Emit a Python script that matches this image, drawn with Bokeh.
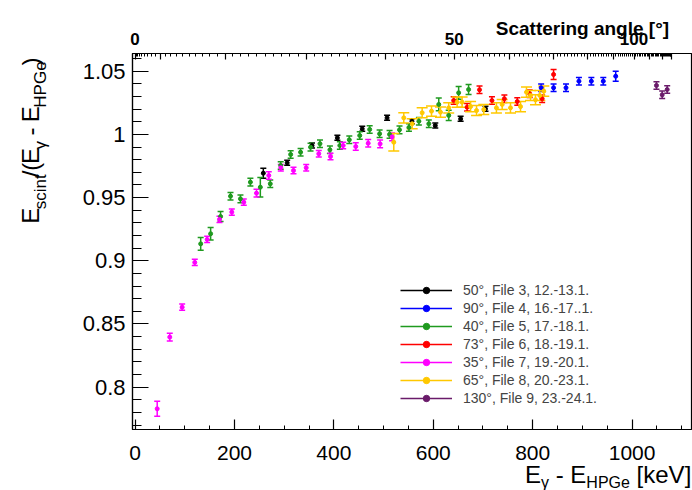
import math
from bokeh.plotting import figure
from bokeh.layouts import column, row
from bokeh.models import (Range1d, LinearAxis, FixedTicker, Whisker, ColumnDataSource,
                          Legend, LegendItem, TeeHead)
from bokeh.core.properties import value
from bokeh.embed import file_html
from bokeh.resources import INLINE

# ---------------- data ----------------
labels = ["50°, File 3, 12.-13.1.", "90°, File 4, 16.-17..1.", "40°, File 5, 17.-18.1.",
          "73°, File 6, 18.-19.1.", "35°, File 7, 19.-20.1.", "65°, File 8, 20.-23.1.",
          "130°, File 9, 23.-24.1."]
colors = ["#000000", "#0000ff", "#1f9a1f", "#ff0000", "#ff00ff", "#ffc800", "#6a1b6a"]

f3_x = [258, 306, 356, 407, 457, 507, 557, 604, 655, 705]
f3_y = [0.9693, 0.9775, 0.9912, 0.9973, 1.0044, 1.0131, 1.0104, 1.0070, 1.0123, 1.0203]
f3_e = [0.004, 0.002, 0.002, 0.002, 0.002, 0.002, 0.002, 0.002, 0.002, 0.002]

f4_x = [817, 842, 867, 893, 918, 942, 967]
f4_y = [1.0369, 1.0369, 1.0369, 1.0421, 1.0421, 1.0421, 1.0460]
f4_e = [0.003, 0.003, 0.003, 0.003, 0.003, 0.003, 0.004]

f5_x = [132, 152, 172, 192, 212, 232, 252, 272, 293, 313, 333, 353, 372, 392, 412, 431,
        452, 472, 492, 512, 532, 551, 571, 591, 611, 631, 651, 671]
f5_y = [0.9134, 0.9214, 0.9350, 0.9511, 0.9490, 0.9622, 0.9582, 0.9609, 0.9754, 0.9841,
        0.9859, 0.9899, 0.9926, 0.9878, 0.9912, 0.9957, 0.9991, 1.0039, 1.0005, 1.0000,
        1.0036, 1.0055, 1.0104, 1.0084, 1.0237, 1.0150, 1.0329, 1.0355]
f5_e = [0.005, 0.005, 0.004, 0.003, 0.003, 0.003, 0.0077, 0.003, 0.003, 0.003,
        0.003, 0.003, 0.003, 0.003, 0.003, 0.003, 0.003, 0.003, 0.003, 0.003,
        0.003, 0.003, 0.003, 0.003, 0.005, 0.004, 0.005, 0.004]

f6_x = [641, 668, 693, 718, 743, 769, 794, 819, 842]
f6_y = [1.0268, 1.0215, 1.0353, 1.0268, 1.0282, 1.0260, 1.0321, 1.0282, 1.0474]
f6_e = [0.003, 0.003, 0.003, 0.003, 0.003, 0.003, 0.003, 0.003, 0.004]

f7_x = [44.5, 69.8, 94.7, 120.1, 145, 169.8, 194.6, 218.7, 244.3, 269, 293.2, 318.7,
        344.3, 369.6, 393.2, 418.7, 444, 469, 493, 517]
f7_y = [0.7829, 0.8396, 0.8633, 0.8987, 0.9169, 0.9327, 0.9385, 0.9464, 0.9535, 0.9675,
        0.9736, 0.9714, 0.9736, 0.9847, 0.9825, 0.9912, 0.9904, 0.9930, 0.9925, 0.9980]
f7_e = [0.006, 0.003, 0.0025, 0.0025, 0.0025, 0.0025, 0.0025, 0.0025, 0.003, 0.003,
        0.0025, 0.0025, 0.0025, 0.0025, 0.0025, 0.0025, 0.003, 0.003, 0.003, 0.003]

f8_x = [520.5, 540.6, 557.5, 577.6, 596.4, 614.5, 631, 648, 658, 675, 687, 701.6,
        727, 738.6, 755.3, 775.5, 787.5, 795.6, 805.6, 814.3, 822.3]
f8_y = [0.9938, 1.0131, 1.0084, 1.0171, 1.0184, 1.0176, 1.0210, 1.0255, 1.0255, 1.0220,
        1.0189, 1.0197, 1.0210, 1.0237, 1.0210, 1.0220, 1.0334, 1.0308, 1.0274, 1.0308,
        1.0342]
f8_e = [0.007, 0.004, 0.004, 0.004, 0.004, 0.004, 0.004, 0.004, 0.004, 0.004,
        0.004, 0.004, 0.004, 0.004, 0.004, 0.004, 0.004, 0.004, 0.004, 0.004, 0.004]

f9_x = [1049, 1060.5, 1070.6]
f9_y = [1.0387, 1.0313, 1.0355]
f9_e = [0.003, 0.003, 0.003]

series_x = [f3_x, f4_x, f5_x, f6_x, f7_x, f8_x, f9_x]
series_y = [f3_y, f4_y, f5_y, f6_y, f7_y, f8_y, f9_y]
series_e = [f3_e, f4_e, f5_e, f6_e, f7_e, f8_e, f9_e]
cap_sizes = [6, 6, 6, 6, 6, 11, 6]

x_major = [0, 200, 400, 600, 800, 1000]
x_minor = [v for v in range(0, 1101, 50) if v % 200 != 0]
y_major = [0.8, 0.85, 0.9, 0.95, 1.0, 1.05]
y_major_text = ["0.8", "0.85", "0.9", "0.95", "1", "1.05"]
y_minor = [round(0.77 + 0.01 * i, 2) for i in range(30)]
angle_major = list(range(0, 131, 10))
angle_text = {0: "0", 50: "50", 100: "100"}
angle_minor = [a for a in range(1, 131) if a % 10 != 0]
E0 = 1332.0  # keV, Compton scale used by the upper (angle) axis

X_START, X_END = -5.2, 1119.5
Y_START, Y_END = 0.7665, 1.064


def compton_t(theta_deg):
    k = E0 / 511.0
    q = k * (1 - math.cos(math.radians(theta_deg)))
    return E0 * q / (1 + q)


FONT = "Liberation Sans"
MID = 0.36  # distance baseline -> "middle" anchor, in em
W_TOTAL, H_TOTAL = 692, 490
H_TOP, H_BOT, W_LEFT = 49, 28, 62
H_MID = H_TOTAL - H_TOP - H_BOT
FRAME_L, FRAME_R, FRAME_T, FRAME_B = 132, 691, 53, 429


def blank(width, height, xr, yr):
    f = figure(width=width, height=height, output_backend="svg", toolbar_location=None,
               x_range=xr, y_range=yr, x_axis_type=None, y_axis_type=None,
               min_border=0, min_border_left=0, min_border_right=0,
               min_border_top=0, min_border_bottom=0)
    f.outline_line_color = None
    f.background_fill_color = "white"
    f.border_fill_color = "white"
    f.xgrid.visible = False
    f.ygrid.visible = False
    return f


# ---------------- main plot ----------------
p = figure(width=W_TOTAL - W_LEFT, height=H_MID, output_backend="svg", toolbar_location=None,
           x_range=Range1d(X_START, X_END), y_range=Range1d(Y_START, Y_END),
           min_border_left=FRAME_L - W_LEFT, min_border_right=W_TOTAL - FRAME_R,
           min_border_top=FRAME_T - H_TOP, min_border_bottom=H_TOP + H_MID - FRAME_B)
p.xgrid.visible = False
p.ygrid.visible = False
p.outline_line_color = "black"
p.outline_line_width = 1.2
p.background_fill_color = "white"
p.border_fill_color = "white"

xa = p.xaxis[0]
xa.ticker = FixedTicker(ticks=x_major, minor_ticks=x_minor)
ya = p.yaxis[0]
ya.ticker = FixedTicker(ticks=y_major, minor_ticks=y_minor)
ya.major_label_overrides = {v: t for v, t in zip(y_major, y_major_text)}

for ax, mj, mn, fs in ((xa, 10, 4, "21px"), (ya, 16, 9, "22px")):
    ax.major_tick_in = mj
    ax.major_tick_out = 0
    ax.minor_tick_in = mn
    ax.minor_tick_out = 0
    ax.axis_line_width = 1.2
    ax.major_tick_line_width = 1.2
    ax.minor_tick_line_width = 1.0
    ax.major_label_text_font = FONT
    ax.major_label_text_font_size = fs
    ax.major_label_text_color = "black"
xa.major_label_standoff = 16
ya.major_label_standoff = 7

top = LinearAxis(ticker=FixedTicker(ticks=[compton_t(a) for a in angle_major],
                                    minor_ticks=[compton_t(a) for a in angle_minor]))
top.major_label_overrides = {compton_t(a): "" for a in angle_major}
top.major_label_text_font_size = "0px"
top.major_label_standoff = 0
top.major_tick_in = 6
top.major_tick_out = 0
top.minor_tick_in = 3
top.minor_tick_out = 0
top.axis_line_width = 1.2
top.major_tick_line_width = 1.2
top.minor_tick_line_width = 1.0
p.add_layout(top, "above")

items = []
for lab, col, xs, ys, es, cap in zip(labels, colors, series_x, series_y, series_e, cap_sizes):
    src = ColumnDataSource(dict(x=xs, y=ys,
                                lo=[y - e for y, e in zip(ys, es)],
                                hi=[y + e for y, e in zip(ys, es)]))
    w = Whisker(source=src, base="x", upper="hi", lower="lo", line_color=col, line_width=1.5,
                upper_head=TeeHead(size=cap, line_color=col, line_width=1.5),
                lower_head=TeeHead(size=cap, line_color=col, line_width=1.5))
    p.add_layout(w)
    r = p.scatter("x", "y", source=src, size=4, color=col)
    # one-point line: draws nothing in the plot, gives the legend its line
    ln = p.line(x=xs[:1], y=ys[:1], line_color=col, line_width=1.5)
    items.append(LegendItem(label=lab, renderers=[ln, r]))

legend = Legend(items=items, location=(268, 22.7), glyph_width=52, glyph_height=16,
                label_height=16, spacing=2, padding=0, margin=0, label_standoff=11,
                border_line_color=None, background_fill_alpha=0,
                label_text_font=FONT, label_text_font_size="14px")
p.add_layout(legend)

# ---------------- titles (text with sub-scripts) ----------------
WID = {'E': 667, 's': 500, 'c': 500, 'i': 222, 'n': 556, 't': 278, '/': 278, '(': 333,
       ')': 333, ' ': 278, '-': 333, 'H': 722, 'P': 667, 'G': 778, 'e': 556, '[': 278,
       'k': 500, 'V': 667, ']': 278, 'γ': 500}


def tw(s, size):
    return sum(WID.get(ch, 556) for ch in s) / 1000.0 * size


def split_space(txt):
    """leading-space count, visible text (SVG drops leading/trailing blanks)"""
    lead = len(txt) - len(txt.lstrip(" "))
    return lead, txt.strip(" ")


MAIN = 24
y_title = [("E", False), ("scint", True), ("/(", False), ("E", False), ("γ", True),
           (" - ", False), ("E", False), ("HPGe", True), (")", False)]
x_title = [("E", False), ("γ", True), (" - ", False), ("E", False), ("HPGe", True),
           (" [keV]", False)]

# left strip: y title, reading upwards (baselines at x=39 / 46 px)
SUB_Y = 17
fy = blank(W_LEFT, H_MID, Range1d(0, W_LEFT), Range1d(0, H_MID))
ty = dict(x=[], y=[], text=[], size=[])
pos = (H_TOP + H_MID) - 236.0
for txt, sub in y_title:
    size = SUB_Y if sub else MAIN
    base = 46 if sub else 39
    lead, vis = split_space(txt)
    ty["x"].append(base - MID * size)
    ty["y"].append(pos + tw(" " * lead, size))
    ty["text"].append(vis)
    ty["size"].append(f"{size}px")
    pos += tw(txt, size)
fy.text(x="x", y="y", text="text", text_font_size="size", source=ColumnDataSource(ty),
        angle=math.pi / 2, text_align="left", text_baseline="middle",
        text_font=value(FONT), text_color="black")

# bottom strip: x title, right aligned (baselines at 483 / 487.5 px of the page)
SUB_X = 16
fx = blank(W_TOTAL, H_BOT, Range1d(0, W_TOTAL), Range1d(0, H_BOT))
tx = dict(x=[], y=[], text=[], size=[])
pos = 690.8 - sum(tw(t, SUB_X if s else MAIN) for t, s in x_title)
for txt, sub in x_title:
    size = SUB_X if sub else MAIN
    base = 487.5 if sub else 483
    lead, vis = split_space(txt)
    tx["x"].append(pos + tw(" " * lead, size))
    tx["y"].append(H_TOTAL - (base - MID * size))
    tx["text"].append(vis)
    tx["size"].append(f"{size}px")
    pos += tw(txt, size)
fx.text(x="x", y="y", text="text", text_font_size="size", source=ColumnDataSource(tx),
        text_align="left", text_baseline="middle", text_font=value(FONT),
        text_color="black")

# top strip: angle tick labels and angle title, on the same keV scale as the plot
kev_per_px = (X_END - X_START) / (FRAME_R - FRAME_L)
ft_range = Range1d(X_START - FRAME_L * kev_per_px, X_END + (W_TOTAL - FRAME_R) * kev_per_px)
ft = blank(W_TOTAL, H_TOP, ft_range, Range1d(0, H_TOP))
ft.text(x=[compton_t(a) for a in angle_text], y=[H_TOP - (44.5 - MID * 17)] * len(angle_text),
        text=list(angle_text.values()), text_align="center", text_baseline="middle",
        text_font=value(FONT), text_font_style="bold", text_font_size="17px",
        text_color="black")
ft.text(x=[ft_range.start + 668.6 * kev_per_px], y=[H_TOP - (34.5 - MID * 19)],
        text=["Scattering angle [°]"],
        text_align="right", text_baseline="middle", text_font=value(FONT),
        text_font_style="bold", text_font_size="19px", text_color="black")

layout = column(ft, row(fy, p, spacing=0), fx, spacing=0)
open("out.html", "w").write(file_html(layout, INLINE))
